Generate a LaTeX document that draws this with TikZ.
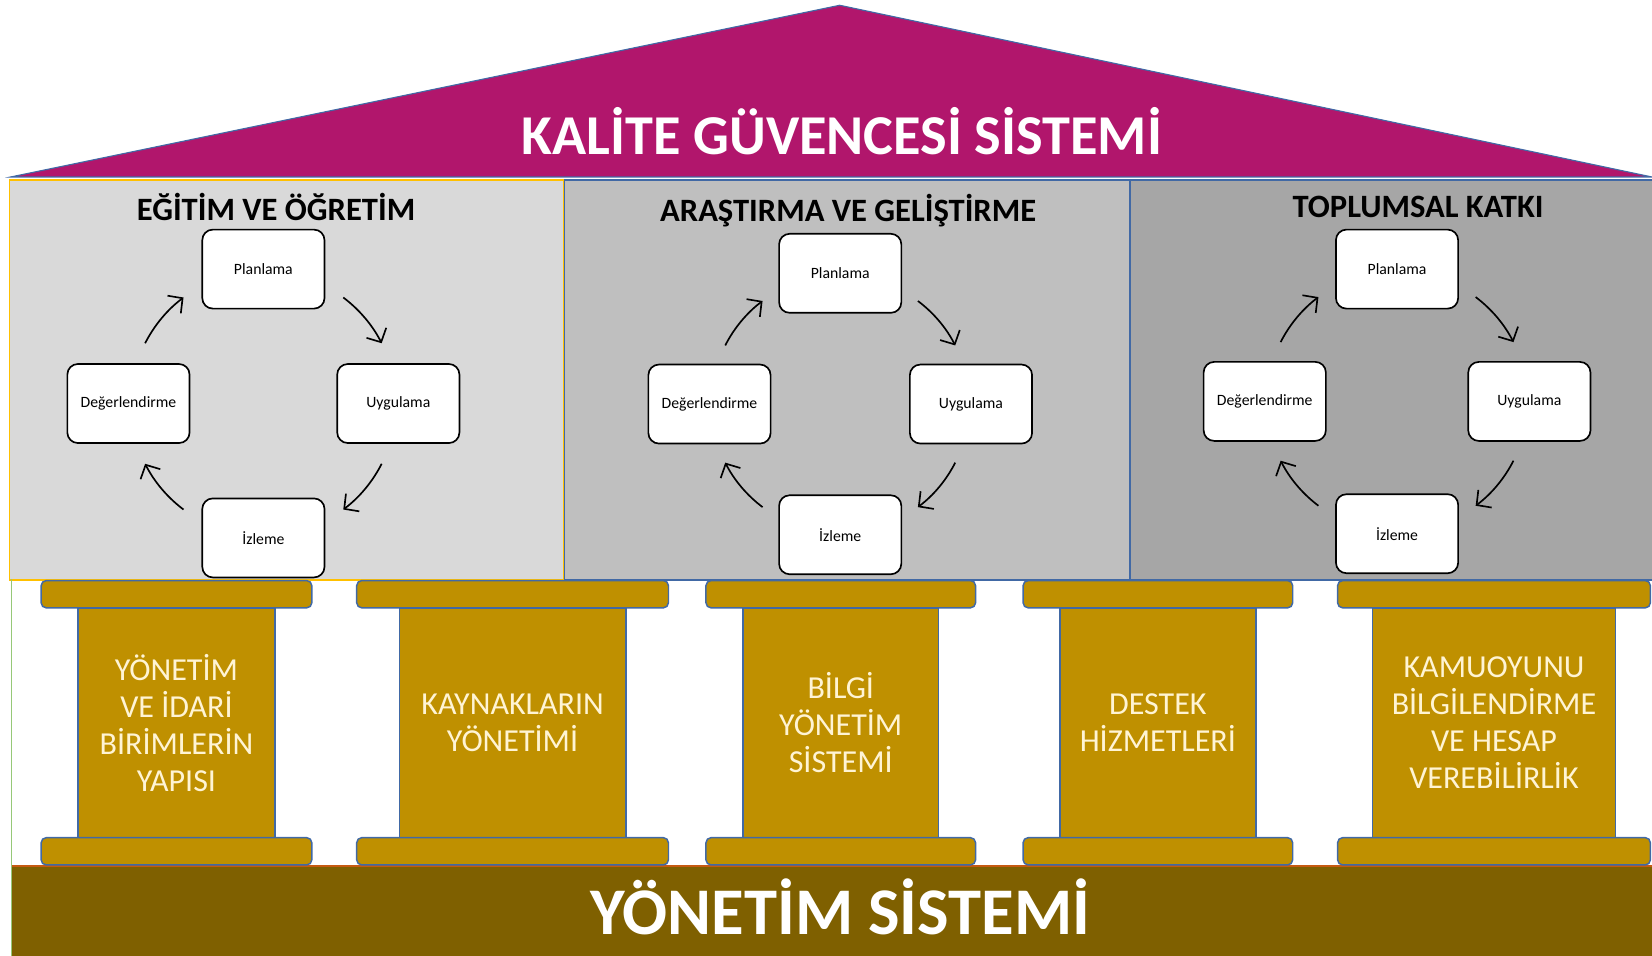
\documentclass[tikz,border=0pt]{standalone}
\usepackage{fontspec}
\setmainfont{Carlito}
\usetikzlibrary{matrix,positioning,arrows.meta}
\definecolor{roofpink}{RGB}{177,22,108}
\definecolor{lineblue}{RGB}{65,105,165}
\definecolor{panelA}{RGB}{217,217,217}
\definecolor{panelB}{RGB}{191,191,191}
\definecolor{panelC}{RGB}{166,166,166}
\definecolor{edgeorange}{RGB}{255,192,0}
\definecolor{pillargold}{RGB}{191,144,0}
\definecolor{baseolive}{RGB}{127,96,0}
\definecolor{rust}{RGB}{197,90,17}
\definecolor{leafgreen}{RGB}{150,200,120}
\definecolor{pillartext}{RGB}{255,244,212}

\begin{document}
\begin{tikzpicture}[
  cmat/.style={matrix of nodes,
    nodes={draw,line width=0.9pt,fill=white,rounded corners=0.2cm,
      minimum width=2.32cm,minimum height=1.5cm,font=\fontsize{8.5}{10}\selectfont}},
  panel/.style={anchor=north west,minimum height=7.6cm,line width=0.8pt,inner sep=0},
  ptitle/.style={anchor=base,font=\bfseries\fontsize{17.6}{21}\selectfont},
  shaft/.style={fill=pillargold,draw=lineblue,line width=0.8pt,minimum height=4.36cm,
    inner sep=0,outer sep=0,align=center,text=pillartext,font=\fontsize{17.3}{20}\selectfont},
  capital/.style={fill=pillargold,draw=lineblue,line width=0.8pt,rounded corners=0.1cm,
    minimum height=0.52cm,inner sep=0,outer sep=0},
  cyc/.style={line width=0.9pt,-{Straight Barb[length=0.2cm,width=0.42cm]}}]

  \useasboundingbox (0,0) rectangle (31.36,-18.14);

  % roof
  \draw[fill=roofpink,draw=lineblue,line width=0.6pt]
    (0.2,-3.36) -- (15.94,-0.1) -- (31.36,-3.36) -- cycle;
  \node[anchor=base,text=white,font=\bfseries\fontsize{30.4}{36}\selectfont] (kgs)
    at (15.98,-2.94) {KALİTE GÜVENCESİ SİSTEMİ};

  % three fields under the roof
  \node[panel,fill=panelB,draw=lineblue,minimum width=10.74cm] (arge) at (10.7,-3.4) {};
  \node[panel,fill=panelC,draw=lineblue,minimum width=9.92cm] (tk) at (21.44,-3.4) {};
  \node[panel,fill=panelA,draw=edgeorange,minimum width=10.51cm] (eo) at (0.17,-3.4) {};

  \node[ptitle] (eo-t) at (5.24,-4.19) {EĞİTİM VE ÖĞRETİM};
  \node[ptitle] (arge-t) at (16.1,-4.21) {ARAŞTIRMA VE GELİŞTİRME};
  \node[ptitle] (tk-t) at (26.92,-4.12) {TOPLUMSAL KATKI};

  \matrix[cmat,column sep=0.21cm,row sep=1.02cm] (cyc1) at (5.0,-7.66) {
    & Planlama & \\
    Değerlendirme & & Uygulama \\
    & İzleme & \\
  };
  \matrix[cmat,column sep=0.13cm,row sep=0.95cm] (cyc2) at (15.95,-7.67) {
    & Planlama & \\
    Değerlendirme & & Uygulama \\
    & İzleme & \\
  };
  \matrix[cmat,column sep=0.16cm,row sep=0.98cm] (cyc3) at (26.52,-7.62) {
    & Planlama & \\
    Değerlendirme & & Uygulama \\
    & İzleme & \\
  };

  % draw arrows round each cycle
  \foreach \m/\r in {cyc1/2.52,cyc2/2.45,cyc3/2.48}
    \foreach \a in {53,-27,-127,153}
      \draw[cyc] ([shift={(\a:\r)}]\m.center) arc[start angle=\a,delta angle=-26,radius=\r];

  % base
  \fill[baseolive] (0.22,-16.44) rectangle (31.36,-18.14);
  \draw[rust,line width=0.8pt] (0.22,-16.44) -- (31.36,-16.44);
  \draw[leafgreen,line width=0.8pt] (0.22,-11.0) -- (0.22,-18.14);
  \node[anchor=base,text=white,font=\bfseries\fontsize{36}{42}\selectfont] (ys)
    at (15.95,-17.74) {YÖNETİM SİSTEMİ};

  % pillars
  \node[shaft,minimum width=3.74cm] (p1) at (3.35,-13.72) {YÖNETİM\\VE İDARİ\\BİRİMLERİN\\YAPISI};
  \node[shaft,minimum width=4.30cm] (p2) at (9.73,-13.72) {KAYNAKLARIN\\YÖNETİMİ};
  \node[shaft,minimum width=3.72cm] (p3) at (15.96,-13.72) {BİLGİ\\YÖNETİM\\SİSTEMİ};
  \node[shaft,minimum width=3.72cm] (p4) at (21.98,-13.72) {DESTEK\\HİZMETLERİ};
  \node[shaft,minimum width=4.62cm] (p5) at (28.36,-13.72) {KAMUOYUNU\\BİLGİLENDİRME\\VE HESAP\\VEREBİLİRLİK};

  \foreach \p/\w in {p1/5.14,p2/5.92,p3/5.12,p4/5.12,p5/5.94} {
    \node[capital,minimum width=\w cm,above=0pt of \p] (\p-top) {};
    \node[capital,minimum width=\w cm,below=0pt of \p] (\p-bot) {};
  }

\end{tikzpicture}
\end{document}
